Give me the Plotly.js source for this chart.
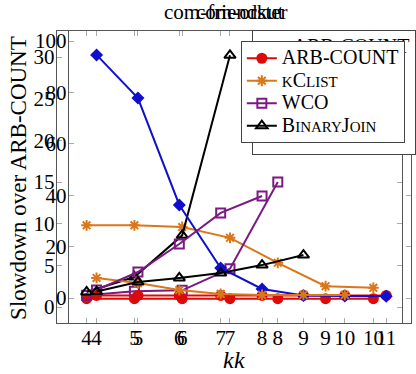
<!DOCTYPE html>
<html>
<head>
<meta charset="utf-8">
<script src="https://cdn.plot.ly/plotly-3.0.1.min.js"></script>
<style>
  html, body { margin: 0; padding: 0; background: #fff; }
  #plot { width: 416px; height: 374px; }
</style>
</head>
<body>
<div id="plot"></div>
<script>
// left panel (com-friendster), k = 4..10
const kA = [4, 5, 6, 7, 8, 9, 10];
const arbA = [1, 1, 1, 1, 1, 1, 1];
const kclistA = [9.8, 9.8, 9.6, 8.3, 5.3, 2.5, 2.3];
const kWcoA = [4, 5, 6, 7, 8];
const wcoA = [1.4, 1.9, 2.0, 4.6, 15.0];
const kBinA = [4, 5, 6, 7];
const binA = [1.8, 3.6, 8.6, 30.2];

// right panel (com-orkut), k = 4..11
const kB = [4, 5, 6, 7, 8, 9, 10, 11];
const arbB = [1, 1, 1, 1, 1, 1, 1, 1];
const pivB = [94.6, 77.8, 36.2, 11.7, 3.5, 1.0, 0.8, 0.7];
const kKcB = [4, 5, 6, 7, 8, 9, 10];
const kclistB = [7.8, 5.8, 3.1, 1.6, 1.2, 1.2, 1.2];
const kWcoB = [4, 5, 6, 7, 8];
const wcoB = [3.1, 10.1, 21.0, 33.1, 39.7];
const kBinB = [4, 5, 6, 7, 8, 9];
const binB = [2.5, 6.2, 7.8, 9.7, 12.8, 16.7];

const W = 416, H = 374;
const FONT = "Liberation Serif, DejaVu Serif, serif";
const big = (s) => `<span style="font-size:20px">${s}</span>`;
const sm = (s) => `<span style="font-size:15px">${s}</span>`;

const names = {
  arb: big("ARB-COUNT"),
  kclist: sm("K") + big("C") + sm("LIST"),
  wco: big("WCO"),
  bin: big("B") + sm("INARY") + big("J") + sm("OIN"),
  piv: big("P") + sm("IVOTER"),
};

const colors = {
  arb: "#dd0a0a",
  kclist: "#d9771a",
  wco: "#7a1a82",
  bin: "#000000",
  piv: "#1010cc",
};

function series(x, y, key, sym, size, ax, leg) {
  const open = sym.indexOf("open") >= 0;
  return {
    x: x,
    y: y,
    name: names[key],
    mode: "lines+markers",
    xaxis: ax === 2 ? "x2" : "x",
    yaxis: ax === 2 ? "y2" : "y",
    legend: leg,
    line: { color: colors[key], width: 2 },
    marker: {
      symbol: sym,
      size: size,
      color: colors[key],
      line: { color: colors[key], width: open ? 2 : 0 },
    },
  };
}

// right panel drawn first, left panel on top
const traces = [
  series(kB, arbB, "arb", "circle", 11, 2, "legend"),
  series(kB, pivB, "piv", "diamond", 10, 2, "legend"),
  series(kKcB, kclistB, "kclist", "asterisk-open", 9, 2, "legend"),
  series(kWcoB, wcoB, "wco", "square-open", 9, 2, "legend"),
  series(kBinB, binB, "bin", "triangle-up-open", 10, 2, "legend"),
  series(kA, arbA, "arb", "circle", 11, 1, "legend2"),
  series(kA, kclistA, "kclist", "asterisk-open", 9, 1, "legend2"),
  series(kWcoA, wcoA, "wco", "square-open", 9, 1, "legend2"),
  series(kBinA, binA, "bin", "triangle-up-open", 10, 1, "legend2"),
];

function axis(domain, range, dtick, extra) {
  return Object.assign({
    domain: domain,
    range: range,
    dtick: dtick,
    tick0: 0,
    ticks: "inside",
    ticklen: 5,
    tickcolor: "#aaa",
    showline: true,
    linecolor: "#555",
    linewidth: 1,
    mirror: "ticks",
    showgrid: false,
    zeroline: false,
    tickfont: { family: FONT, size: 21, color: "#000" },
  }, extra || {});
}

const legendBox = (x, y) => ({
  x: x / W,
  y: 1 - y / H,
  xanchor: "left",
  yanchor: "top",
  bgcolor: "#fff",
  bordercolor: "#444",
  borderwidth: 1,
  itemwidth: 30,
  font: { family: FONT, size: 15, color: "#000" },
});

const layout = {
  width: W,
  height: H,
  margin: { l: 0, r: 0, t: 0, b: 0 },
  paper_bgcolor: "#fff",
  plot_bgcolor: "rgba(0,0,0,0)",
  showlegend: true,
  xaxis: axis([57 / W, 404 / W], [3.375, 10.6], 1, { anchor: "y", ticklabelstandoff: -4 }),
  yaxis: axis([1 - 323 / H, 1 - 31 / H], [-1.92, 33.12], 5, { anchor: "x", ticklabelstandoff: -3 }),
  xaxis2: axis([69 / W, 413 / W], [3.326, 11.6], 1, { anchor: "y2", ticklabelstandoff: -4 }),
  yaxis2: axis([1 - 323 / H, 1 - 31 / H], [-9.73, 103.9], 20, { anchor: "x2", ticklabelstandoff: -3 }),
  legend: legendBox(253, 30),
  legend2: legendBox(242, 41),
  annotations: [
    { text: "com-orkut", x: 241 / W, y: 1 - 12 / H },
    { text: "com-friendster", x: 227 / W, y: 1 - 12 / H },
    { text: "<i>k</i>", x: 241 / W, y: 1 - 360 / H, font: { family: FONT, size: 24, color: "#000" } },
    { text: "<i>k</i>", x: 230 / W, y: 1 - 360 / H, font: { family: FONT, size: 24, color: "#000" } },
    { text: "Slowdown over ARB-COUNT", x: 18 / W, y: 1 - 178 / H, textangle: -90,
      font: { family: FONT, size: 23, color: "#000" } },
  ].map((a) => Object.assign({
    xref: "paper", yref: "paper", showarrow: false,
    xanchor: "center", yanchor: "middle",
    font: { family: FONT, size: 21, color: "#000" },
  }, a)),
};

Plotly.newPlot("plot", traces, layout, { staticPlot: true, displayModeBar: false });
</script>
</body>
</html>
